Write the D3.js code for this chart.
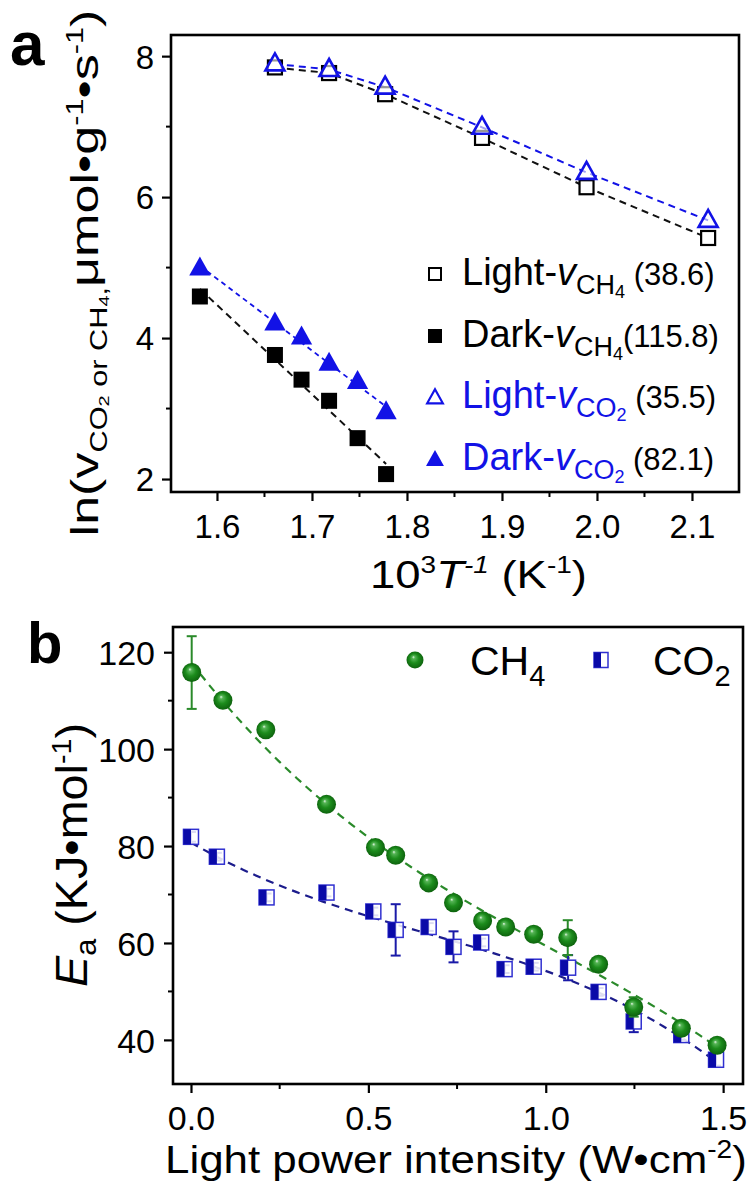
<!DOCTYPE html>
<html><head><meta charset="utf-8">
<script src="https://cdn.jsdelivr.net/npm/d3@7"></script>
<style>body{margin:0;background:#fff} svg{display:block}</style>
</head><body><svg id="c" width="752" height="1183"></svg>
<script>
// ---------- Panel a data ----------
const invT_light = [1.661, 1.718, 1.777, 1.879, 1.989, 2.117];
const lnV_lightCH4 = [7.84, 7.76, 7.46, 6.84, 6.14, 5.42];
const lnV_lightCO2 = [7.89, 7.81, 7.56, 6.99, 6.35, 5.67];
const invT_dark = [1.582, 1.661, 1.689, 1.718, 1.748, 1.778];
const lnV_darkCH4 = [4.59, 3.76, 3.41, 3.11, 2.58, 2.07];
const lnV_darkCO2 = [4.99, 4.21, 4.01, 3.64, 3.38, 2.95];
const xTicksA = [1.6, 1.7, 1.8, 1.9, 2.0, 2.1];
const xMinorA = [1.65, 1.75, 1.85, 1.95, 2.05];
const yTicksA = [2, 4, 6, 8];
const yMinorA = [3, 5, 7];
const legendNamesA = ["Light-", "Dark-", "Light-", "Dark-"];
const legendSubA = [["CH", "4"], ["CH", "4"], ["CO", "2"], ["CO", "2"]];
const legendEaA = ["(38.6)", "(115.8)", "(35.5)", "(82.1)"];

// ---------- Panel b data ----------
const intensityCH4 = [0.002, 0.09, 0.211, 0.382, 0.52, 0.577, 0.67, 0.74, 0.822, 0.887, 0.966, 1.062, 1.149, 1.248, 1.382, 1.483];
const EaCH4 = [115.8, 110.1, 104.0, 88.6, 79.7, 78.1, 72.4, 68.3, 64.6, 63.3, 61.8, 61.1, 55.6, 46.8, 42.4, 38.9];
const errCH4 = [7.5, 0.8, 0.8, 0.8, 0.8, 0.8, 0.8, 0.8, 0.8, 0.8, 0.8, 3.6, 0.8, 2.0, 1.0, 1.0];
const intensityCO2 = [0.0, 0.073, 0.213, 0.382, 0.514, 0.577, 0.67, 0.74, 0.818, 0.884, 0.966, 1.063, 1.149, 1.248, 1.382, 1.48];
const EaCO2 = [81.9, 77.8, 69.4, 70.4, 66.5, 62.7, 63.3, 59.2, 60.1, 54.6, 55.1, 54.9, 49.9, 43.8, 41.0, 35.9];
const errCO2 = [1.0, 0.8, 0.8, 0.8, 0.8, 5.3, 0.8, 3.2, 0.8, 0.8, 0.8, 2.6, 0.8, 2.2, 1.0, 1.2];
const xTicksB = [0.0, 0.5, 1.0, 1.5];
const xMinorB = [0.25, 0.75, 1.25];
const yTicksB = [40, 60, 80, 100, 120];
const yMinorB = [50, 70, 90, 110];

const FONT = '"Liberation Sans", Arial, Helvetica, sans-serif';
const BLUE = "#1212e6";
const svg = d3.select("#c").attr("font-family", FONT);
svg.append("rect").attr("width", 752).attr("height", 1183).attr("fill", "#fff");

const defs = svg.append("defs");
const rg = defs.append("radialGradient").attr("id", "sph").attr("cx", "50%").attr("cy", "50%").attr("r", "55%").attr("fx", "40%").attr("fy", "32%");
[["0%", "#e6f7e6"], ["16%", "#55b455"], ["50%", "#1c8c1c"], ["100%", "#0b5c0b"]].forEach(s => rg.append("stop").attr("offset", s[0]).attr("stop-color", s[1]));

function polyfit(xs, ys, deg) {
  const n = deg + 1;
  const A = Array.from({length: n}, () => Array(n + 1).fill(0));
  xs.forEach((xv, k) => {
    for (let i = 0; i < n; i++) {
      for (let j = 0; j < n; j++) A[i][j] += Math.pow(xv, i + j);
      A[i][n] += ys[k] * Math.pow(xv, i);
    }
  });
  for (let i = 0; i < n; i++) {
    let p = i;
    for (let r = i + 1; r < n; r++) if (Math.abs(A[r][i]) > Math.abs(A[p][i])) p = r;
    [A[i], A[p]] = [A[p], A[i]];
    for (let r = 0; r < n; r++) {
      if (r === i) continue;
      const f = A[r][i] / A[i][i];
      for (let c = i; c <= n; c++) A[r][c] -= f * A[i][c];
    }
  }
  return A.map((row, i) => row[n] / row[i]);
}
const evalPoly = (c, xv) => c.reduce((s, ci, i) => s + ci * Math.pow(xv, i), 0);

function drawAxes(g, x, y, o) {
  const [xl, xr] = x.range(), [yb, yt] = y.range();
  const ax = g.append("g").attr("transform", `translate(0,${yb})`)
    .call(d3.axisBottom(x).tickValues(o.xt).tickSize(9).tickSizeOuter(0).tickFormat(o.fx));
  ax.attr("font-family", FONT).attr("font-size", o.fs);
  ax.select(".domain").remove();
  ax.selectAll(".tick line").attr("stroke", "#000").attr("stroke-width", 2.2);
  ax.selectAll(".tick text").attr("y", o.xOff).attr("dy", 0).attr("fill", "#000");
  ax.selectAll("line.mn").data(o.xm).join("line").attr("class", "mn")
    .attr("x1", d => x(d)).attr("x2", d => x(d)).attr("y1", 0).attr("y2", 5)
    .attr("stroke", "#000").attr("stroke-width", 2);
  const ay = g.append("g").attr("transform", `translate(${xl},0)`)
    .call(d3.axisLeft(y).tickValues(o.yt).tickSize(9).tickSizeOuter(0).tickFormat(o.fy));
  ay.attr("font-family", FONT).attr("font-size", o.fs);
  ay.select(".domain").remove();
  ay.selectAll(".tick line").attr("stroke", "#000").attr("stroke-width", 2.2);
  ay.selectAll(".tick text").attr("x", -o.yOff).attr("dy", "0.36em").attr("fill", "#000");
  ay.selectAll("line.mn").data(o.ym).join("line").attr("class", "mn")
    .attr("y1", d => y(d)).attr("y2", d => y(d)).attr("x1", 0).attr("x2", -5)
    .attr("stroke", "#000").attr("stroke-width", 2);
  g.append("rect").attr("x", xl).attr("y", yt).attr("width", xr - xl).attr("height", yb - yt)
    .attr("fill", "none").attr("stroke", "#000").attr("stroke-width", 2.6);
}

// fit horizontal text group to a target width
function fitH(grp, text, x0, y0, width) {
  const w = text.node().getBBox().width;
  grp.attr("transform", `translate(${x0},${y0}) scale(${width / w},1)`);
}
function fitV(grp, text, bx, cy, len) {
  const w = text.node().getBBox().width;
  grp.attr("transform", `translate(${bx},${cy}) rotate(-90) scale(${len / w},1)`);
}

const triPath = s => `M0,${-s * 0.62}L${s * 0.56},${s * 0.38}L${-s * 0.56},${s * 0.38}Z`;

// ================= Panel a =================
const xA = d3.scaleLinear().domain([1.5516, 2.1495]).range([171, 739]);
const yA = d3.scaleLinear().domain([1.816, 8.30]).range([492, 35]);
const gA = svg.append("g");

// lines
const lineA = d3.line().x(d => xA(d[0])).y(d => yA(d[1]));
gA.append("path").datum(invT_light.map((v, i) => [v, lnV_lightCH4[i]])).attr("d", lineA)
  .attr("fill", "none").attr("stroke", "#111").attr("stroke-width", 2).attr("stroke-dasharray", "7,5");
gA.append("path").datum(invT_light.map((v, i) => [v, lnV_lightCO2[i]])).attr("d", lineA)
  .attr("fill", "none").attr("stroke", BLUE).attr("stroke-width", 2).attr("stroke-dasharray", "7,5");
const fitCH4a = polyfit(invT_dark, lnV_darkCH4, 1);
const fitCO2a = polyfit(invT_dark, lnV_darkCO2, 1);
const ext = d3.extent(invT_dark);
gA.append("path").datum(ext.map(v => [v, evalPoly(fitCH4a, v)])).attr("d", lineA)
  .attr("fill", "none").attr("stroke", "#111").attr("stroke-width", 2).attr("stroke-dasharray", "7,5");
gA.append("path").datum(ext.map(v => [v, evalPoly(fitCO2a, v)])).attr("d", lineA)
  .attr("fill", "none").attr("stroke", BLUE).attr("stroke-width", 1.8).attr("stroke-dasharray", "5,4");

// markers
gA.selectAll("rect.lch4").data(invT_light.map((v, i) => [v, lnV_lightCH4[i]])).join("rect").attr("class", "lch4")
  .attr("x", d => xA(d[0]) - 7).attr("y", d => yA(d[1]) - 7).attr("width", 14).attr("height", 14)
  .attr("fill", "#fff").attr("stroke", "#000").attr("stroke-width", 2.2);
gA.selectAll("path.lco2").data(invT_light.map((v, i) => [v, lnV_lightCO2[i]])).join("path").attr("class", "lco2")
  .attr("transform", d => `translate(${xA(d[0])},${yA(d[1])})`).attr("d", triPath(17))
  .attr("fill", "#fff").attr("fill-opacity", 0.6).attr("stroke", BLUE).attr("stroke-width", 2.6);
gA.selectAll("rect.dch4").data(invT_dark.map((v, i) => [v, lnV_darkCH4[i]])).join("rect").attr("class", "dch4")
  .attr("x", d => xA(d[0]) - 8).attr("y", d => yA(d[1]) - 8).attr("width", 16).attr("height", 16)
  .attr("fill", "#000");
gA.selectAll("path.dco2").data(invT_dark.map((v, i) => [v, lnV_darkCO2[i]])).join("path").attr("class", "dco2")
  .attr("transform", d => `translate(${xA(d[0])},${yA(d[1])})`).attr("d", triPath(19))
  .attr("fill", BLUE);

drawAxes(gA, xA, yA, {xt: xTicksA, xm: xMinorA, yt: yTicksA, ym: yMinorA,
  fx: d3.format(".1f"), fy: d3.format("d"), fs: 33, xOff: 46, yOff: 17});

// legend a
const legBase = [285, 347, 408, 470];
legendNamesA.forEach((nm, i) => {
  const by = legBase[i], my = by - 11, mx = 435;
  if (i === 0) gA.append("rect").attr("x", mx - 6).attr("y", my - 6).attr("width", 12).attr("height", 12)
    .attr("fill", "#fff").attr("stroke", "#000").attr("stroke-width", 2);
  if (i === 1) gA.append("rect").attr("x", mx - 7).attr("y", my - 7).attr("width", 14).attr("height", 14).attr("fill", "#000");
  if (i === 2) gA.append("path").attr("transform", `translate(${mx},${my + 1})`).attr("d", triPath(14))
    .attr("fill", "#fff").attr("stroke", BLUE).attr("stroke-width", 2.2);
  if (i === 3) gA.append("path").attr("transform", `translate(${mx},${my + 1})`).attr("d", triPath(16)).attr("fill", BLUE);
  const col = i < 2 ? "#000" : BLUE;
  const t = gA.append("text").attr("x", 462).attr("y", by).attr("font-size", 38).attr("fill", col);
  t.append("tspan").text(nm);
  t.append("tspan").attr("font-style", "italic").text("v");
  t.append("tspan").attr("font-size", 27).attr("dy", 9).text(legendSubA[i][0]);
  t.append("tspan").attr("font-size", 18).attr("dy", 4).text(legendSubA[i][1]);
  t.append("tspan").attr("font-size", 31).attr("dy", -13).attr("fill", "#000").text((i === 1 ? "" : "\u00a0") + legendEaA[i]);
});

// panel label a
svg.append("text").attr("x", 10).attr("y", 65).attr("font-size", 62).attr("font-weight", "bold").text("a");

// x title a
{
  const grp = svg.append("g");
  const t = grp.append("text").attr("font-size", 39).attr("fill", "#000");
  t.append("tspan").text("10");
  t.append("tspan").attr("font-size", 24).attr("dy", -15).text("3");
  t.append("tspan").attr("font-style", "italic").attr("dy", 15).text("T");
  t.append("tspan").attr("font-style", "italic").attr("font-size", 24).attr("dy", -15).text("-1");
  t.append("tspan").attr("dy", 15).text(" (K");
  t.append("tspan").attr("font-size", 24).attr("dy", -15).text("-1");
  t.append("tspan").attr("dy", 15).text(")");
  fitH(grp, t, 370, 588, 217);
}
// y title a
{
  const grp = svg.append("g");
  const t = grp.append("text").attr("font-size", 39).attr("text-anchor", "middle").attr("fill", "#000");
  t.append("tspan").text("ln(v");
  t.append("tspan").attr("font-size", 23).attr("dy", 9).text("CO");
  t.append("tspan").attr("font-size", 15).attr("dy", 2).text("2");
  t.append("tspan").attr("font-size", 23).attr("dy", -2).text(" or CH");
  t.append("tspan").attr("font-size", 15).attr("dy", 2).text("4");
  t.append("tspan").attr("font-size", 23).attr("dy", -2).text(",");
  t.append("tspan").attr("dy", -9).text("μmol•g");
  t.append("tspan").attr("font-size", 23).attr("dy", -15).text("-1");
  t.append("tspan").attr("dy", 15).text("•s");
  t.append("tspan").attr("font-size", 23).attr("dy", -15).text("-1");
  t.append("tspan").attr("dy", 15).text(")");
  fitV(grp, t, 98, 273, 527);
}

// ================= Panel b =================
const xB = d3.scaleLinear().domain([-0.0507, 1.556]).range([173, 743]);
const yB = d3.scaleLinear().domain([30.9, 125.2]).range([1084, 627]);
const gB = svg.append("g");
const lineB = d3.line().x(d => xB(d[0])).y(d => yB(d[1]));

const fitCH4b = polyfit(intensityCH4, EaCH4, 3);
const fitCO2b = polyfit(intensityCO2, EaCO2, 3);
const samp = (xs) => { const [a, b] = d3.extent(xs); return d3.range(0, 61).map(k => a + (b - a) * k / 60); };
gB.append("path").datum(samp(intensityCH4).map(v => [v, evalPoly(fitCH4b, v)])).attr("d", lineB)
  .attr("fill", "none").attr("stroke", "#2a8a2a").attr("stroke-width", 2.2).attr("stroke-dasharray", "8,6");
gB.append("path").datum(samp(intensityCO2).map(v => [v, evalPoly(fitCO2b, v)])).attr("d", lineB)
  .attr("fill", "none").attr("stroke", "#1c1c8c").attr("stroke-width", 2.2).attr("stroke-dasharray", "8,6");

function errBars(xs, ys, es, col) {
  const d = xs.map((v, i) => [v, ys[i], es[i]]);
  const g = gB.append("g").attr("stroke", col).attr("stroke-width", 2);
  g.selectAll("line.v").data(d).join("line").attr("class", "v")
    .attr("x1", e => xB(e[0])).attr("x2", e => xB(e[0])).attr("y1", e => yB(e[1] - e[2])).attr("y2", e => yB(e[1] + e[2]));
  g.selectAll("line.t").data(d).join("line").attr("class", "t")
    .attr("x1", e => xB(e[0]) - 5).attr("x2", e => xB(e[0]) + 5).attr("y1", e => yB(e[1] + e[2])).attr("y2", e => yB(e[1] + e[2]));
  g.selectAll("line.b").data(d).join("line").attr("class", "b")
    .attr("x1", e => xB(e[0]) - 5).attr("x2", e => xB(e[0]) + 5).attr("y1", e => yB(e[1] - e[2])).attr("y2", e => yB(e[1] - e[2]));
}
errBars(intensityCO2, EaCO2, errCO2, "#1a1aa8");
function halfSquare(g, cx, cy, w, h) {
  g.append("rect").attr("x", cx - w / 2).attr("y", cy - h / 2).attr("width", w).attr("height", h)
    .attr("fill", "#fff").attr("fill-opacity", 0.85).attr("stroke", "#3030d0").attr("stroke-width", 1.5);
  g.append("rect").attr("x", cx - w / 2).attr("y", cy - h / 2).attr("width", w / 2).attr("height", h).attr("fill", "#0a0aa8");
}
intensityCO2.forEach((v, i) => halfSquare(gB, xB(v), yB(EaCO2[i]), 15, 15));
errBars(intensityCH4, EaCH4, errCH4, "#2a8a2a");
gB.selectAll("circle.ch4").data(intensityCH4.map((v, i) => [v, EaCH4[i]])).join("circle").attr("class", "ch4")
  .attr("cx", d => xB(d[0])).attr("cy", d => yB(d[1])).attr("r", 9.5).attr("fill", "url(#sph)");

drawAxes(gB, xB, yB, {xt: xTicksB, xm: xMinorB, yt: yTicksB, ym: yMinorB,
  fx: d3.format(".1f"), fy: d3.format("d"), fs: 34, xOff: 46, yOff: 18});

// legend b
gB.append("circle").attr("cx", 415).attr("cy", 660).attr("r", 8.5).attr("fill", "url(#sph)");
{
  const t = gB.append("text").attr("x", 470).attr("y", 675).attr("font-size", 41);
  t.append("tspan").text("CH");
  t.append("tspan").attr("font-size", 29).attr("dy", 11).text("4");
}
halfSquare(gB, 601, 660, 14, 15);
{
  const t = gB.append("text").attr("x", 653).attr("y", 675).attr("font-size", 41);
  t.append("tspan").text("CO");
  t.append("tspan").attr("font-size", 29).attr("dy", 11).text("2");
}

// panel label b
svg.append("text").attr("x", 27).attr("y", 663).attr("font-size", 58).attr("font-weight", "bold").text("b");

// x title b
{
  const grp = svg.append("g");
  const t = grp.append("text").attr("font-size", 39).attr("fill", "#000");
  t.append("tspan").text("Light power intensity (W•cm");
  t.append("tspan").attr("font-size", 25).attr("dy", -15).text("-2");
  t.append("tspan").attr("dy", 15).text(")");
  fitH(grp, t, 165, 1173, 582);
}
// y title b
{
  const grp = svg.append("g");
  const t = grp.append("text").attr("font-size", 44).attr("text-anchor", "middle").attr("fill", "#000");
  t.append("tspan").attr("font-style", "italic").text("E");
  t.append("tspan").attr("font-size", 29).attr("dy", 9).text("a");
  t.append("tspan").attr("dy", -9).text(" (KJ•mol");
  t.append("tspan").attr("font-size", 27).attr("dy", -16).text("-1");
  t.append("tspan").attr("dy", 16).text(")");
  fitV(grp, t, 87, 855, 264);
}
</script></body></html>
